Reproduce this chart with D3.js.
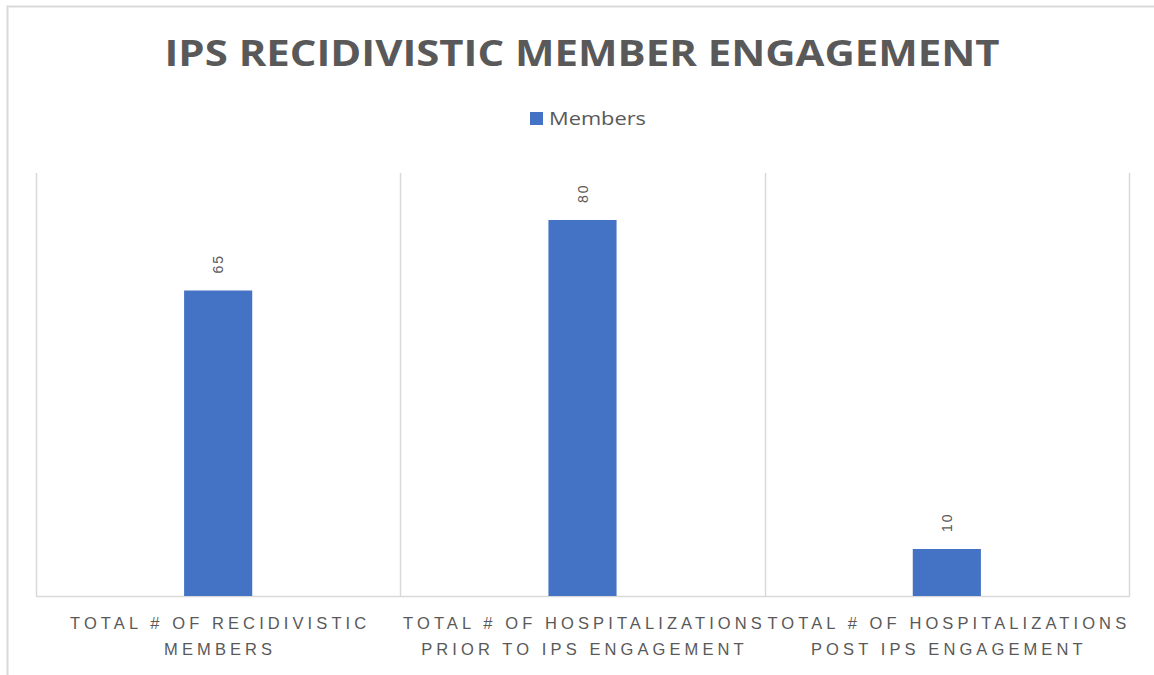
<!DOCTYPE html>
<html><head><meta charset="utf-8">
<script src="https://cdn.jsdelivr.net/npm/d3@7"></script>
<style>
html,body{margin:0;padding:0;background:#fff;}
svg{display:block;}
</style></head>
<body>
<script>
const categories = ["TOTAL # OF RECIDIVISTIC MEMBERS","TOTAL # OF HOSPITALIZATIONS PRIOR TO IPS ENGAGEMENT","TOTAL # OF HOSPITALIZATIONS POST IPS ENGAGEMENT"];
const categoryLines = [["TOTAL # OF RECIDIVISTIC","MEMBERS"],["TOTAL # OF HOSPITALIZATIONS","PRIOR TO IPS ENGAGEMENT"],["TOTAL # OF HOSPITALIZATIONS","POST IPS ENGAGEMENT"]];
const members = [65, 80, 10];
const seriesName = "Members";
const title = "IPS RECIDIVISTIC MEMBER ENGAGEMENT";

const W = 1154, H = 675;
const svg = d3.select("body").append("svg").attr("width", W).attr("height", H);
const gray = "#595959", grid = "#d9d9d9", blue = "#4472c4";

// outer chart frame
svg.append("rect").attr("x", 7.5).attr("y", 6.5).attr("width", 1200).attr("height", 720)
  .attr("fill", "#fff").attr("stroke", "#d9d9d9").attr("stroke-width", 2);

const m = {left: 36, right: 1129, top: 173, bottom: 596};
const x = d3.scaleBand().domain(categories).range([m.left, m.right]).padding(0);
const y = d3.scaleLinear().domain([0, 90]).range([m.bottom, m.top]);

// vertical category gridlines
const bounds = categories.map(c => x(c)).concat([m.right]);
svg.append("g").selectAll("line").data(bounds).join("line")
  .attr("x1", d => Math.round(d) + 0.5).attr("x2", d => Math.round(d) + 0.5)
  .attr("y1", m.top).attr("y2", m.bottom)
  .attr("stroke", grid).attr("stroke-width", 1.5);

// bottom axis line
svg.append("line").attr("x1", m.left).attr("x2", m.right + 1)
  .attr("y1", m.bottom + 0.5).attr("y2", m.bottom + 0.5)
  .attr("stroke", grid).attr("stroke-width", 1.5);

const barW = x.bandwidth() * 0.187;
svg.append("g").selectAll("rect").data(members).join("rect")
  .attr("x", (d, i) => x(categories[i]) + x.bandwidth() / 2 - barW / 2)
  .attr("y", d => y(d))
  .attr("width", barW)
  .attr("height", d => y(0) - y(d))
  .attr("fill", blue);

// data labels rotated
svg.append("g").selectAll("text").data(members).join("text")
  .attr("transform", (d, i) => `translate(${x(categories[i]) + x.bandwidth() / 2 + 5},${y(d) - 17}) rotate(-90)`)
  .attr("text-anchor", "start")
  .attr("font-family", "Liberation Sans, Arial, sans-serif")
  .attr("font-size", 14).attr("letter-spacing", 2)
  .attr("fill", gray)
  .text(d => d);

// title
svg.append("text").attr("x", 582).attr("y", 66).attr("text-anchor", "middle")
  .attr("font-family", "Open Sans, sans-serif").attr("font-weight", 700)
  .attr("font-size", 35).attr("fill", gray)
  .attr("textLength", 835).attr("lengthAdjust", "spacingAndGlyphs")
  .text(title);

// legend
const lg = svg.append("g");
lg.append("rect").attr("x", 530).attr("y", 112).attr("width", 13).attr("height", 13).attr("fill", blue);
lg.append("text").attr("x", 549).attr("y", 125)
  .attr("font-family", "Open Sans, sans-serif").attr("font-size", 18)
  .attr("textLength", 97).attr("lengthAdjust", "spacingAndGlyphs")
  .attr("fill", gray).text(seriesName);

// category labels
const cl = svg.append("g").selectAll("text").data(categoryLines).join("text")
  .attr("font-family", "Liberation Sans, Arial, sans-serif").attr("font-size", 16.5)
  .attr("fill", gray).attr("text-anchor", "middle").attr("letter-spacing", 4.1);
cl.each(function(lines, i) {
  const t = d3.select(this);
  lines.forEach((ln, j) => {
    t.append("tspan").attr("x", x(categories[i]) + x.bandwidth() / 2 + 2)
      .attr("y", 629 + j * 26).text(ln);
  });
});
</script>
</body></html>
